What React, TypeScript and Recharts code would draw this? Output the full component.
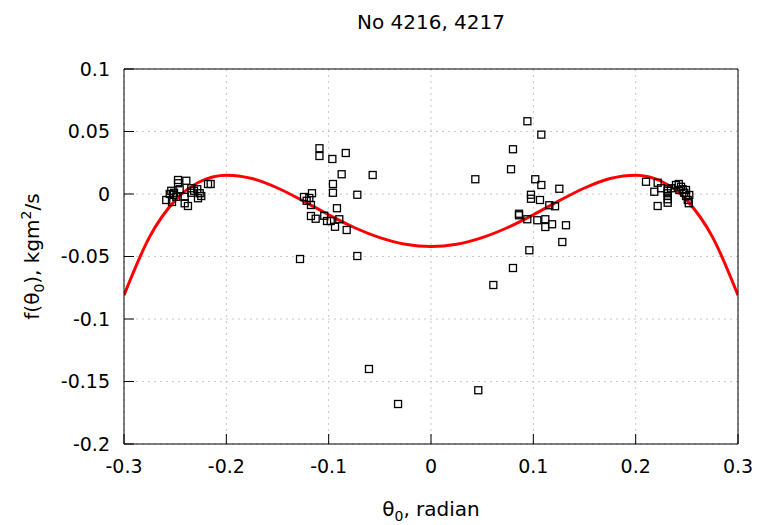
import React from 'react';
import { ComposedChart, Line, Scatter, XAxis, YAxis, CartesianGrid } from 'recharts';

// fitted curve
const curveX = [-0.3, -0.275, -0.25, -0.225, -0.2, -0.175, -0.15, -0.125, -0.1, -0.075, -0.05, -0.025, 0,
  0.025, 0.05, 0.075, 0.1, 0.125, 0.15, 0.175, 0.2, 0.225, 0.25, 0.275, 0.3];
const curveY = [-0.081, -0.0343, -0.0051, 0.0102, 0.0151, 0.0124, 0.0048, -0.0055, -0.0166, -0.0268, -0.0349, -0.0402, -0.042,
  -0.0402, -0.0349, -0.0268, -0.0166, -0.0055, 0.0048, 0.0124, 0.0151, 0.0102, -0.0051, -0.0343, -0.081];

// measured points
const scatterX = [
  -0.2472, -0.2472, -0.2391, -0.2538, -0.2511, -0.2553, -0.2521, -0.2587, -0.2531, -0.2489, -0.2407, -0.2407,
  -0.2375, -0.2342, -0.2316, -0.2342, -0.2284, -0.226, -0.2245, -0.2179, -0.2153, -0.2277, -0.2456,
  -0.109, -0.109, -0.0964, -0.0833, -0.0873, -0.057, -0.0958, -0.0958, -0.072, -0.1163, -0.1241, -0.1189,
  -0.1215, -0.1173, -0.0919, -0.1173, -0.1127, -0.1043, -0.1016, -0.098, -0.0896, -0.0938, -0.0824, -0.128,
  -0.072, -0.0606, -0.0322,
  0.0462, 0.0942, 0.1078, 0.0801, 0.0782, 0.0433, 0.1019, 0.1078, 0.1254, 0.0977, 0.0977, 0.1065, 0.1156,
  0.1212, 0.086, 0.086, 0.0941, 0.1039, 0.1117, 0.1117, 0.1183, 0.1319, 0.1283, 0.0961, 0.0801, 0.0609,
  0.2101, 0.2215, 0.2182, 0.2248, 0.2313, 0.2313, 0.2313, 0.2313, 0.2313, 0.2313, 0.2345, 0.2215, 0.2394,
  0.2421, 0.2443, 0.246, 0.2475, 0.2492, 0.2509, 0.2519, 0.2492, 0.2524, 0.2427,
];
const scatterY = [
  0.0112, 0.0086, 0.0106, 0.0026, 0.001, 0.0, -0.0006, -0.0048, -0.0064, -0.0022, -0.0022, -0.0074,
  -0.0096, 0.0046, 0.0026, 0.001, 0.0038, 0.0006, -0.0016, 0.008, 0.008, -0.0034, 0.0038,
  0.0366, 0.0304, 0.028, 0.0328, 0.0158, 0.0152, 0.008, 0.001, -0.0006, 0.0006, -0.0024, -0.0032,
  -0.0054, -0.0088, -0.0114, -0.0176, -0.0198, -0.0174, -0.0216, -0.0216, -0.0202, -0.0262, -0.0288, -0.052,
  -0.0496, -0.14, -0.168,
  -0.157, 0.0582, 0.0475, 0.0358, 0.0198, 0.0118, 0.0118, 0.0072, 0.0042, -0.0006, -0.0038, -0.0048, -0.009,
  -0.0098, -0.0158, -0.017, -0.0202, -0.021, -0.0202, -0.0264, -0.0242, -0.025, -0.0384, -0.045, -0.0592, -0.0728,
  0.0098, 0.009, 0.0018, 0.0046, 0.0038, 0.0026, 0.0006, -0.0016, -0.0042, -0.007, 0.0046, -0.0096, 0.0072,
  0.008, 0.0058, 0.0038, 0.001, -0.0016, -0.0048, -0.0074, 0.0032, -0.0008, 0.0032,
];

const xTicks = [-0.3, -0.2, -0.1, 0, 0.1, 0.2, 0.3];
const yTicks = [0.1, 0.05, 0, -0.05, -0.1, -0.15, -0.2];

const title = 'No 4216, 4217';

const curveData = curveX.map((x, i) => ({ x, y: curveY[i] }));
const pointData = scatterX.map((x, i) => ({ x, y: scatterY[i] }));

const FONT = 'DejaVu Sans';
const tickStyle = { fontFamily: FONT, fontSize: 19, fill: '#000' };

const Square = (p: any) => (
  <rect x={p.cx - 3.5} y={p.cy - 3.5} width={7} height={7} fill="none" stroke="#000" strokeWidth={1.3} />
);

const XLabel = ({ viewBox }: any) => (
  <text x={viewBox.x + viewBox.width / 2} y={viewBox.y + 72} textAnchor="middle"
    fontFamily={FONT} fontSize={20} fill="#000">
    θ<tspan fontSize={14} dy={5}>0</tspan><tspan dy={-5}>, radian</tspan>
  </text>
);

const YLabel = ({ viewBox }: any) => {
  const cx = viewBox.x - 32;
  const cy = viewBox.y + viewBox.height / 2;
  return (
    <text x={cx} y={cy + 7} transform={`rotate(-90, ${cx}, ${cy})`} textAnchor="middle"
      fontFamily={FONT} fontSize={20} fill="#000">
      f(θ<tspan fontSize={14} dy={5}>0</tspan><tspan dy={-5}>), kgm</tspan>
      <tspan fontSize={14} dy={-8}>2</tspan><tspan dy={8}>/s</tspan>
    </text>
  );
};

const Title = ({ viewBox }: any) => (
  <text x={viewBox.x + viewBox.width / 2} y={viewBox.y - 39} textAnchor="middle"
    fontFamily={FONT} fontSize={20} fill="#000">
    {title}
  </text>
);

export default function App() {
  return (
    <div style={{ position: 'absolute', left: 0, top: 0, background: '#fff' }}>
      <ComposedChart width={758} height={525} margin={{ top: 68, right: 19, bottom: 41, left: 64 }}>
        <CartesianGrid stroke="#c8c8c8" strokeDasharray="2 4" />
        <XAxis xAxisId={0} dataKey="x" type="number" domain={[-0.3, 0.3]} ticks={xTicks} interval={0}
          height={40} tickSize={-10} tickMargin={26} tick={tickStyle}
          axisLine={{ stroke: '#000' }} tickLine={{ stroke: '#000' }} allowDataOverflow
          label={{ content: XLabel }} />
        <XAxis xAxisId="top" dataKey="x" orientation="top" type="number" domain={[-0.3, 0.3]} ticks={xTicks}
          interval={0} height={1} tickSize={-10} tick={false}
          axisLine={{ stroke: '#000' }} tickLine={{ stroke: '#000' }} allowDataOverflow
          label={{ content: Title }} />
        <YAxis yAxisId={0} dataKey="y" type="number" domain={[-0.2, 0.1]} ticks={yTicks} interval={0}
          width={60} tickSize={-10} tickMargin={24} tick={tickStyle}
          axisLine={{ stroke: '#000' }} tickLine={{ stroke: '#000' }} allowDataOverflow
          label={{ content: YLabel }} />
        <YAxis yAxisId="right" dataKey="y" orientation="right" type="number" domain={[-0.2, 0.1]} ticks={yTicks}
          interval={0} width={1} tickSize={-10} tick={false}
          axisLine={{ stroke: '#000' }} tickLine={{ stroke: '#000' }} allowDataOverflow />
        <Line xAxisId={0} yAxisId={0} data={curveData} dataKey="y" type="monotone" stroke="#ff0000"
          strokeWidth={3} dot={false} activeDot={false} isAnimationActive={false} />
        <Scatter xAxisId="top" yAxisId="right" data={pointData} dataKey="y" shape={Square}
          isAnimationActive={false} />
      </ComposedChart>
    </div>
  );
}
